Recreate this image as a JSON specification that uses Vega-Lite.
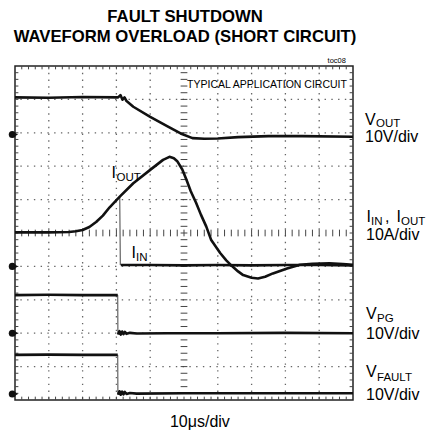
{
  "$schema": "https://vega.github.io/schema/vega-lite/v6.json",
  "width": 338,
  "height": 334,
  "autosize": "none",
  "padding": {"left": 15, "top": 66, "right": 81, "bottom": 33},
  "background": "white",
  "config": {"view": {"stroke": "#222", "strokeWidth": 1.5}, "axis": {"disable": true}, "font": "Liberation Sans"},
  "datasets": {
    "traces": [
      {"s": "VOUT", "x": 0, "y": 9.06}, {"s": "VOUT", "x": 1, "y": 9.05}, {"s": "VOUT", "x": 2, "y": 9.07}, {"s": "VOUT", "x": 3.05, "y": 9.06},
      {"s": "VOUT", "x": 3.12, "y": 9.13}, {"s": "VOUT", "x": 3.18, "y": 8.99}, {"s": "VOUT", "x": 3.24, "y": 9.06}, {"s": "VOUT", "x": 3.3, "y": 8.95},
      {"s": "VOUT", "x": 3.5, "y": 8.78}, {"s": "VOUT", "x": 4.0, "y": 8.48}, {"s": "VOUT", "x": 4.5, "y": 8.2}, {"s": "VOUT", "x": 4.9, "y": 7.98},
      {"s": "VOUT", "x": 5.25, "y": 7.84}, {"s": "VOUT", "x": 5.6, "y": 7.82}, {"s": "VOUT", "x": 6.0, "y": 7.83}, {"s": "VOUT", "x": 6.6, "y": 7.87},
      {"s": "VOUT", "x": 7.5, "y": 7.9}, {"s": "VOUT", "x": 8.5, "y": 7.9}, {"s": "VOUT", "x": 10, "y": 7.88},
      {"s": "IOUT", "x": 0, "y": 5.02}, {"s": "IOUT", "x": 1, "y": 5.02}, {"s": "IOUT", "x": 1.6, "y": 5.03}, {"s": "IOUT", "x": 1.8, "y": 5.05},
      {"s": "IOUT", "x": 2.0, "y": 5.09}, {"s": "IOUT", "x": 2.2, "y": 5.18}, {"s": "IOUT", "x": 2.4, "y": 5.33}, {"s": "IOUT", "x": 2.6, "y": 5.52},
      {"s": "IOUT", "x": 2.8, "y": 5.77}, {"s": "IOUT", "x": 3.1, "y": 6.09}, {"s": "IOUT", "x": 3.5, "y": 6.49}, {"s": "IOUT", "x": 4.0, "y": 6.89},
      {"s": "IOUT", "x": 4.38, "y": 7.19}, {"s": "IOUT", "x": 4.57, "y": 7.28}, {"s": "IOUT", "x": 4.7, "y": 7.24}, {"s": "IOUT", "x": 4.8, "y": 7.15},
      {"s": "IOUT", "x": 4.95, "y": 6.9}, {"s": "IOUT", "x": 5.07, "y": 6.6}, {"s": "IOUT", "x": 5.2, "y": 6.25}, {"s": "IOUT", "x": 5.36, "y": 5.9},
      {"s": "IOUT", "x": 5.5, "y": 5.55}, {"s": "IOUT", "x": 5.66, "y": 5.19}, {"s": "IOUT", "x": 5.8, "y": 4.8}, {"s": "IOUT", "x": 6.07, "y": 4.4},
      {"s": "IOUT", "x": 6.25, "y": 4.18}, {"s": "IOUT", "x": 6.42, "y": 4.01}, {"s": "IOUT", "x": 6.6, "y": 3.85}, {"s": "IOUT", "x": 6.75, "y": 3.74},
      {"s": "IOUT", "x": 7.0, "y": 3.66}, {"s": "IOUT", "x": 7.19, "y": 3.64}, {"s": "IOUT", "x": 7.4, "y": 3.69}, {"s": "IOUT", "x": 7.63, "y": 3.79},
      {"s": "IOUT", "x": 8.05, "y": 3.94}, {"s": "IOUT", "x": 8.43, "y": 4.05}, {"s": "IOUT", "x": 8.8, "y": 4.08}, {"s": "IOUT", "x": 9.3, "y": 4.09},
      {"s": "IOUT", "x": 9.7, "y": 4.07}, {"s": "IOUT", "x": 10, "y": 4.05},
      {"s": "IIN", "x": 3.13, "y": 4.04}, {"s": "IIN", "x": 4, "y": 4.04}, {"s": "IIN", "x": 5, "y": 4.03}, {"s": "IIN", "x": 6, "y": 4.04},
      {"s": "IIN", "x": 7, "y": 4.03}, {"s": "IIN", "x": 8, "y": 4.04}, {"s": "IIN", "x": 9, "y": 4.04}, {"s": "IIN", "x": 10, "y": 4.03},
      {"s": "VPG", "x": 0, "y": 3.14}, {"s": "VPG", "x": 1, "y": 3.15}, {"s": "VPG", "x": 2, "y": 3.14}, {"s": "VPG", "x": 3.04, "y": 3.14},
      {"s": "VPG2", "x": 3.05, "y": 1.96}, {"s": "VPG2", "x": 3.09, "y": 2.06}, {"s": "VPG2", "x": 3.13, "y": 1.96}, {"s": "VPG2", "x": 3.17, "y": 2.05},
      {"s": "VPG2", "x": 3.21, "y": 1.97}, {"s": "VPG2", "x": 3.25, "y": 2.04}, {"s": "VPG2", "x": 3.3, "y": 1.98}, {"s": "VPG2", "x": 3.4, "y": 2.01},
      {"s": "VPG2", "x": 3.6, "y": 1.99}, {"s": "VPG2", "x": 4.5, "y": 2.0}, {"s": "VPG2", "x": 6, "y": 2.0}, {"s": "VPG2", "x": 8, "y": 2.01}, {"s": "VPG2", "x": 10, "y": 2.0},
      {"s": "VFAULT", "x": 0, "y": 1.35}, {"s": "VFAULT", "x": 1, "y": 1.36}, {"s": "VFAULT", "x": 2, "y": 1.35}, {"s": "VFAULT", "x": 3.04, "y": 1.35},
      {"s": "VFAULT2", "x": 3.05, "y": 0.16}, {"s": "VFAULT2", "x": 3.09, "y": 0.26}, {"s": "VFAULT2", "x": 3.13, "y": 0.16}, {"s": "VFAULT2", "x": 3.17, "y": 0.25},
      {"s": "VFAULT2", "x": 3.21, "y": 0.17}, {"s": "VFAULT2", "x": 3.25, "y": 0.24}, {"s": "VFAULT2", "x": 3.3, "y": 0.18}, {"s": "VFAULT2", "x": 3.4, "y": 0.21},
      {"s": "VFAULT2", "x": 3.6, "y": 0.19}, {"s": "VFAULT2", "x": 5, "y": 0.2}, {"s": "VFAULT2", "x": 7, "y": 0.2}, {"s": "VFAULT2", "x": 10, "y": 0.2}
    ],
    "edges": [
      {"s": "IIN", "x": 3.1, "y": 6.09}, {"s": "IIN", "x": 3.115, "y": 4.04},
      {"s": "VPG", "x": 3.04, "y": 3.14}, {"s": "VPG", "x": 3.045, "y": 1.96},
      {"s": "VFAULT", "x": 3.04, "y": 1.35}, {"s": "VFAULT", "x": 3.045, "y": 0.16}
    ],
    "grounds": [{"y": 7.95}, {"y": 4.0}, {"y": 2.0}, {"y": 0.18}],
    "div": [{"v": 1}, {"v": 2}, {"v": 3}, {"v": 4}, {"v": 6}, {"v": 7}, {"v": 8}, {"v": 9}],
    "minor": [
      {"v": 0.2}, {"v": 0.4}, {"v": 0.6}, {"v": 0.8}, {"v": 1}, {"v": 1.2}, {"v": 1.4}, {"v": 1.6}, {"v": 1.8}, {"v": 2},
      {"v": 2.2}, {"v": 2.4}, {"v": 2.6}, {"v": 2.8}, {"v": 3}, {"v": 3.2}, {"v": 3.4}, {"v": 3.6}, {"v": 3.8}, {"v": 4},
      {"v": 4.2}, {"v": 4.4}, {"v": 4.6}, {"v": 4.8}, {"v": 5}, {"v": 5.2}, {"v": 5.4}, {"v": 5.6}, {"v": 5.8}, {"v": 6},
      {"v": 6.2}, {"v": 6.4}, {"v": 6.6}, {"v": 6.8}, {"v": 7}, {"v": 7.2}, {"v": 7.4}, {"v": 7.6}, {"v": 7.8}, {"v": 8},
      {"v": 8.2}, {"v": 8.4}, {"v": 8.6}, {"v": 8.8}, {"v": 9}, {"v": 9.2}, {"v": 9.4}, {"v": 9.6}, {"v": 9.8}
    ],
    "labels": [
      {"t": "FAULT SHUTDOWN", "x": 5.03, "y": 11.317, "k": "title"},
      {"t": "WAVEFORM OVERLOAD (SHORT CIRCUIT)", "x": 5.03, "y": 10.72, "k": "title"},
      {"t": "TYPICAL APPLICATION CIRCUIT", "x": 5.09, "y": 9.34, "k": "note"},
      {"t": "toc08", "x": 9.79, "y": 10.075, "k": "toc"},
      {"t": "10μs/div", "x": 5.47, "y": -0.808, "k": "bottom"},
      {"t": "V", "x": 10.355, "y": 8.234, "k": "main"},
      {"t": "10V/div", "x": 10.355, "y": 7.725, "k": "main"},
      {"t": "I", "x": 10.4, "y": 5.329, "k": "main"},
      {"t": ",", "x": 10.947, "y": 5.329, "k": "main"},
      {"t": "I", "x": 11.287, "y": 5.329, "k": "main"},
      {"t": "10A/div", "x": 10.385, "y": 4.79, "k": "main"},
      {"t": "V", "x": 10.385, "y": 2.44, "k": "main"},
      {"t": "10V/div", "x": 10.385, "y": 1.826, "k": "main"},
      {"t": "V", "x": 10.385, "y": 0.689, "k": "main"},
      {"t": "10V/div", "x": 10.385, "y": 0.0, "k": "main"},
      {"t": "I", "x": 2.855, "y": 6.632, "k": "main"},
      {"t": "I", "x": 3.447, "y": 4.237, "k": "main"},
      {"t": "OUT", "x": 10.68, "y": 8.159, "k": "sub"},
      {"t": "IN", "x": 10.533, "y": 5.24, "k": "sub"},
      {"t": "OUT", "x": 11.42, "y": 5.24, "k": "sub"},
      {"t": "PG", "x": 10.71, "y": 2.33, "k": "sub"},
      {"t": "FAULT", "x": 10.71, "y": 0.579, "k": "sub"},
      {"t": "OUT", "x": 3.003, "y": 6.542, "k": "sub"},
      {"t": "IN", "x": 3.58, "y": 4.147, "k": "sub"}
    ]
  },
  "layer": [
    {
      "data": {"name": "div"},
      "mark": {"type": "rule", "color": "#666", "strokeWidth": 1.3, "strokeDash": [1.4, 5.36]},
      "encoding": {"x": {"field": "v", "type": "quantitative", "scale": {"domain": [0, 10], "nice": false, "zero": false}}}
    },
    {
      "data": {"name": "div"},
      "mark": {"type": "rule", "color": "#666", "strokeWidth": 1.3, "strokeDash": [1.4, 5.36]},
      "encoding": {"y": {"field": "v", "type": "quantitative", "scale": {"domain": [0, 10], "nice": false, "zero": false}}}
    },
    {
      "mark": {"type": "rule", "color": "#444", "strokeWidth": 1},
      "encoding": {"x": {"datum": 5, "type": "quantitative"}}
    },
    {
      "mark": {"type": "rule", "color": "#444", "strokeWidth": 1},
      "encoding": {"y": {"datum": 5, "type": "quantitative"}}
    },
    {
      "data": {"name": "minor"},
      "mark": {"type": "rule", "color": "#444", "strokeWidth": 1},
      "encoding": {"x": {"field": "v", "type": "quantitative"}, "y": {"datum": 0, "type": "quantitative"}, "y2": {"datum": 0.1}}
    },
    {
      "data": {"name": "minor"},
      "mark": {"type": "rule", "color": "#444", "strokeWidth": 1},
      "encoding": {"x": {"field": "v", "type": "quantitative"}, "y": {"datum": 9.9, "type": "quantitative"}, "y2": {"datum": 10}}
    },
    {
      "data": {"name": "minor"},
      "mark": {"type": "rule", "color": "#444", "strokeWidth": 1},
      "encoding": {"x": {"field": "v", "type": "quantitative"}, "y": {"datum": 4.9, "type": "quantitative"}, "y2": {"datum": 5.1}}
    },
    {
      "data": {"name": "minor"},
      "mark": {"type": "rule", "color": "#444", "strokeWidth": 1},
      "encoding": {"y": {"field": "v", "type": "quantitative"}, "x": {"datum": 0, "type": "quantitative"}, "x2": {"datum": 0.1}}
    },
    {
      "data": {"name": "minor"},
      "mark": {"type": "rule", "color": "#444", "strokeWidth": 1},
      "encoding": {"y": {"field": "v", "type": "quantitative"}, "x": {"datum": 9.9, "type": "quantitative"}, "x2": {"datum": 10}}
    },
    {
      "data": {"name": "minor"},
      "mark": {"type": "rule", "color": "#444", "strokeWidth": 1},
      "encoding": {"y": {"field": "v", "type": "quantitative"}, "x": {"datum": 4.9, "type": "quantitative"}, "x2": {"datum": 5.1}}
    },
    {
      "data": {"name": "edges"},
      "mark": {"type": "line", "color": "#444", "strokeWidth": 1},
      "encoding": {"x": {"field": "x", "type": "quantitative"}, "y": {"field": "y", "type": "quantitative"}, "detail": {"field": "s"}}
    },
    {
      "data": {"name": "traces"},
      "mark": {"type": "line", "color": "#111", "strokeWidth": 2.6, "strokeJoin": "round"},
      "encoding": {"x": {"field": "x", "type": "quantitative"}, "y": {"field": "y", "type": "quantitative"}, "detail": {"field": "s"}}
    },
    {
      "data": {"name": "grounds"},
      "mark": {"type": "point", "shape": "circle", "filled": true, "color": "#111", "size": 50, "opacity": 1},
      "encoding": {"x": {"datum": -0.08, "type": "quantitative"}, "y": {"field": "y", "type": "quantitative"}}
    },
    {
      "data": {"name": "grounds"},
      "mark": {"type": "point", "shape": "triangle-right", "filled": true, "color": "#111", "size": 10, "opacity": 1},
      "encoding": {"x": {"datum": 0.05, "type": "quantitative"}, "y": {"field": "y", "type": "quantitative"}}
    },
    {
      "data": {"name": "labels"},
      "transform": [{"filter": "datum.k == 'title'"}],
      "mark": {"type": "text", "fontSize": 16.7, "fontWeight": "bold", "align": "center", "baseline": "alphabetic", "color": "#000"},
      "encoding": {"x": {"field": "x", "type": "quantitative"}, "y": {"field": "y", "type": "quantitative"}, "text": {"field": "t"}}
    },
    {
      "data": {"name": "labels"},
      "transform": [{"filter": "datum.k == 'note'"}],
      "mark": {"type": "text", "fontSize": 10.5, "align": "left", "baseline": "alphabetic", "color": "#000"},
      "encoding": {"x": {"field": "x", "type": "quantitative"}, "y": {"field": "y", "type": "quantitative"}, "text": {"field": "t"}}
    },
    {
      "data": {"name": "labels"},
      "transform": [{"filter": "datum.k == 'toc'"}],
      "mark": {"type": "text", "fontSize": 7.5, "align": "right", "baseline": "alphabetic", "color": "#000"},
      "encoding": {"x": {"field": "x", "type": "quantitative"}, "y": {"field": "y", "type": "quantitative"}, "text": {"field": "t"}}
    },
    {
      "data": {"name": "labels"},
      "transform": [{"filter": "datum.k == 'bottom'"}],
      "mark": {"type": "text", "fontSize": 16, "align": "center", "baseline": "alphabetic", "color": "#000"},
      "encoding": {"x": {"field": "x", "type": "quantitative"}, "y": {"field": "y", "type": "quantitative"}, "text": {"field": "t"}}
    },
    {
      "data": {"name": "labels"},
      "transform": [{"filter": "datum.k == 'main'"}],
      "mark": {"type": "text", "fontSize": 16, "align": "left", "baseline": "alphabetic", "color": "#000"},
      "encoding": {"x": {"field": "x", "type": "quantitative"}, "y": {"field": "y", "type": "quantitative"}, "text": {"field": "t"}}
    },
    {
      "data": {"name": "labels"},
      "transform": [{"filter": "datum.k == 'sub'"}],
      "mark": {"type": "text", "fontSize": 11.5, "align": "left", "baseline": "alphabetic", "color": "#000"},
      "encoding": {"x": {"field": "x", "type": "quantitative"}, "y": {"field": "y", "type": "quantitative"}, "text": {"field": "t"}}
    }
  ]
}
